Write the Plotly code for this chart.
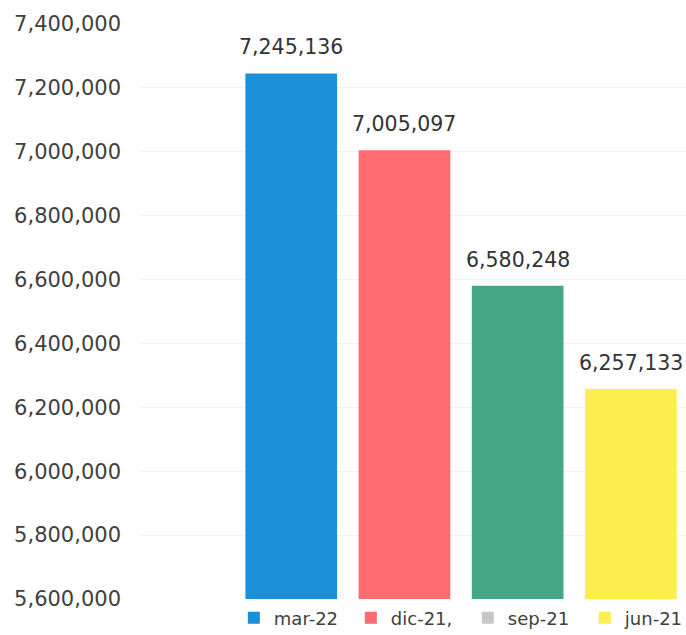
import plotly.graph_objects as go

categories = ["mar-22", "dic-21,", "sep-21", "jun-21"]
values = [7245136, 7005097, 6580248, 6257133]
bar_colors = ["#1b8fd8", "#ff6b6f", "#44a887", "#fcee4c"]
legend_colors = ["#1b8fd8", "#ff6b6f", "#c8c8c8", "#fcee4c"]
tick_vals = [5600000, 5800000, 6000000, 6200000, 6400000, 6600000, 6800000, 7000000, 7200000, 7400000]

FONT = "DejaVu Sans"
fig = go.Figure()
xs = list(range(len(categories)))
fig.add_trace(go.Bar(
    x=xs, y=values,
    marker=dict(color=bar_colors, line=dict(width=0)),
    showlegend=False, width=0.81, hoverinfo="y",
))
for x, v in zip(xs, values):
    fig.add_annotation(x=x, y=v, text=f"{v:,}", showarrow=False,
                       yanchor="bottom", yshift=12,
                       font=dict(size=20.5, color="#333333", family=FONT))
for name, col in zip(categories, legend_colors):
    fig.add_trace(go.Scatter(
        x=[None], y=[None], mode="markers", name=name,
        marker=dict(symbol="square", size=12, color=col),
    ))

fig.update_layout(
    width=686, height=635,
    margin=dict(l=140, r=0, t=24, b=36, autoexpand=False),
    plot_bgcolor="white", paper_bgcolor="white",
    font=dict(family=FONT, color="#404040"),
    xaxis=dict(range=[-1.336, 3.487], showticklabels=False, showgrid=False,
               zeroline=False, showline=False, ticks=""),
    yaxis=dict(range=[5600000, 7400000], tickvals=tick_vals, tickformat=",",
               tickfont=dict(size=21, color="#404040", family=FONT), showgrid=True,
               gridcolor="#f2f2f2", zeroline=False, showline=False, ticklabelstandoff=18),
    legend=dict(orientation="h", x=1.029, xanchor="right", y=-0.033, yanchor="middle",
                font=dict(size=18, color="#404040", family=FONT), entrywidth=72,
                itemwidth=30, bgcolor="rgba(0,0,0,0)"),
    bargap=0.19,
)
# remove the default page margin so the 686x635 figure fills the window exactly
fig.write_html("out.html", config={"displayModeBar": False},
               post_script="document.body.style.margin='0';document.body.style.overflow='hidden';")
